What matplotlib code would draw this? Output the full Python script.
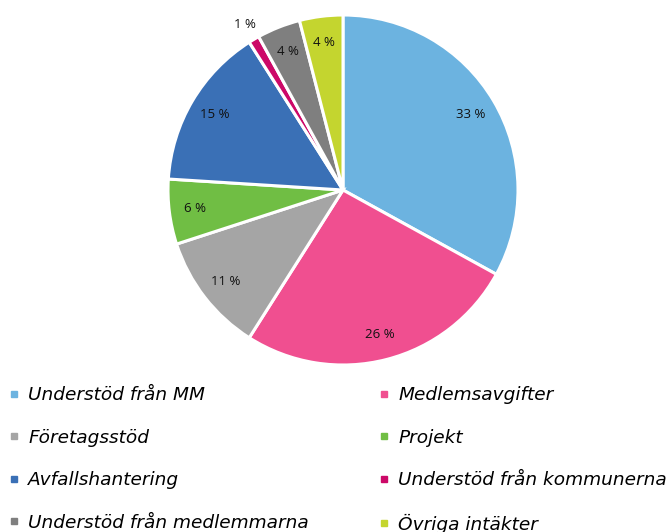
import matplotlib
matplotlib.use("Agg")
import matplotlib.pyplot as plt
from matplotlib.lines import Line2D

# andel av intäkter, medurs från toppen
labels = ["Understöd från MM", "Medlemsavgifter", "Företagsstöd", "Projekt",
          "Avfallshantering", "Understöd från kommunerna",
          "Understöd från medlemmarna", "Övriga intäkter"]
values = [33, 26, 11, 6, 15, 1, 4, 4]
colors = ["#6CB3E0", "#F04F90", "#A5A5A5", "#70BE44",
          "#3A70B6", "#CC0868", "#7F7F7F", "#C4D52F"]

fig = plt.figure(figsize=(6.67, 5.32), dpi=100)
ax = fig.add_axes([168 / 667, 1 - 365 / 532, 350 / 667, 350 / 532])

wedges, texts = ax.pie(values, colors=colors, startangle=90, counterclock=False,
                       radius=1, labels=[f"{v} %" for v in values],
                       labeldistance=0.85,
                       wedgeprops=dict(edgecolor="white", linewidth=2.2),
                       textprops=dict(fontsize=9.5, family="Open Sans", color="#111111",
                                      ha="center", va="center"))
# den lilla biten får etiketten utanför
for t, v in zip(texts, values):
    t.set_horizontalalignment("center")
    if v == 1:
        x, y = t.get_position()
        t.set_position((x / 0.85 * 1.1, y / 0.85 * 1.1))

ax.set_xlim(-1, 1)
ax.set_ylim(-1, 1)
ax.axis("off")

def make_handles(idx):
    return [Line2D([], [], marker="s", linestyle="none", markersize=5,
                   markerfacecolor=colors[i], markeredgecolor=colors[i]) for i in idx]

left_idx = [0, 2, 4, 6]
right_idx = [1, 3, 5, 7]
for idx, x0 in [(left_idx, 8 / 667), (right_idx, 378 / 667)]:
    fig.legend(make_handles(idx), [labels[i] for i in idx],
               loc="upper left", bbox_to_anchor=(x0, 1 - 386 / 532),
               frameon=False, handlelength=0.6, handletextpad=0.5,
               labelspacing=1.33, borderaxespad=0, borderpad=0,
               prop=dict(family="DejaVu Sans", style="italic", size=13.3))

fig.savefig("out.png", dpi=100)
